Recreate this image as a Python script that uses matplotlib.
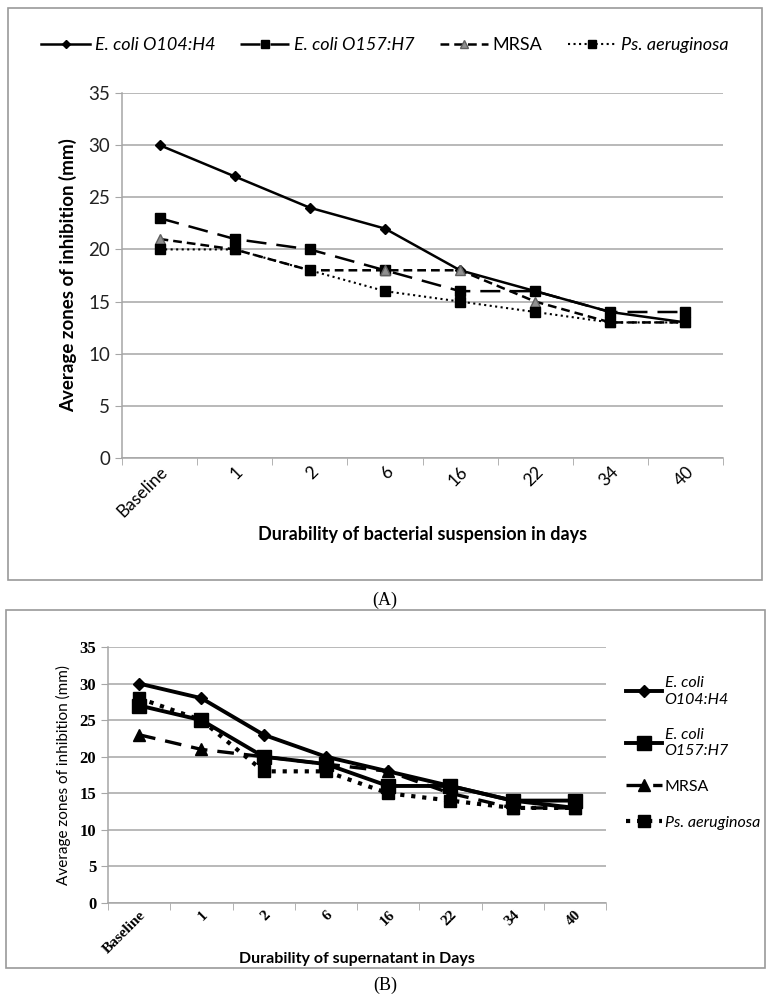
import numpy as np
from matplotlib import pyplot as plt
from matplotlib.patches import Rectangle


#  -------------------------------------------  data  ------------------------------------------  #

days = ["Baseline", "1", "2", "6", "16", "22", "34", "40"]

# (A) bacterial suspension
susp_o104 = [30, 27, 24, 22, 18, 16, 14, 13]
susp_o157 = [23, 21, 20, 18, 16, 16, 14, 14]
susp_mrsa = [21, 20, 18, 18, 18, 15, 13, 13]
susp_psae = [20, 20, 18, 16, 15, 14, 13, 13]

# (B) supernatant
sup_o104 = [30, 28, 23, 20, 18, 16, 14, 13]
sup_o157 = [27, 25, 20, 19, 16, 16, 14, 14]
sup_mrsa = [23, 21, 20, 19, 18, 15, 13, 13]
sup_psae = [28, 25, 18, 18, 15, 14, 13, 13]


#  -------------------------------------------  plot  ------------------------------------------  #

sans = ["Lato", "DejaVu Sans"]
serif = ["Liberation Serif", "DejaVu Serif"]
plt.rcParams.update({"font.family": sans})

fig = plt.figure(figsize=(7.7, 9.99), dpi=100)
W, H = 770, 999

def fbox(x0, y0, x1, y1):
    return [x0/W, 1-y1/H, (x1-x0)/W, (y1-y0)/H]

# panel frames
for (x0, y0, x1, y1) in [(8, 8, 762, 580), (6, 610, 765, 968)]:
    fig.patches.append(Rectangle((x0/W, 1-y1/H), (x1-x0)/W, (y1-y0)/H,
                                 transform=fig.transFigure, fill=False,
                                 ec="#9a9a9a", lw=1.2))

x = np.arange(len(days))
grid_c = "#a6a6a6"

def style_axes(ax):
    ax.set_xlim(-0.5, len(days)-0.5)
    ax.set_ylim(0, 35)
    ax.set_yticks(range(0, 36, 5))
    ax.yaxis.grid(True, color=grid_c, lw=1.1)
    ax.set_axisbelow(True)
    for s in ("top", "right"):
        ax.spines[s].set_visible(False)
    for s in ("left", "bottom"):
        ax.spines[s].set_color(grid_c)
        ax.spines[s].set_linewidth(1.1)
    ax.set_xticks(x)
    ax.set_xticks(np.arange(-0.5, len(days)), minor=True)
    ax.tick_params(axis="x", which="major", length=0, pad=4)
    ax.tick_params(axis="x", which="minor", length=5, color=grid_c)
    ax.tick_params(axis="y", length=5, color=grid_c)


#  ------------------------------------------  panel A  ----------------------------------------  #

ax = fig.add_axes(fbox(122, 93, 723, 458))
style_axes(ax)

ax.plot(x, susp_o104, '-', c='black', lw=1.8, marker='D', ms=5, label="E. coli O104:H4")
ax.plot(x, susp_o157, '-', c='black', lw=1.8, dashes=(8, 4), marker='s', ms=7, label="E. coli O157:H7")
ax.plot(x, susp_mrsa, '-', c='black', lw=1.8, dashes=(3.5, 2), marker='^', ms=7,
        mfc='#909090', mec='#606060', label="MRSA")
ax.plot(x, susp_psae, ':', c='black', lw=1.5, marker='s', ms=7, label="Ps. aeruginosa")

ax.set_xticklabels(days, rotation=45, ha='right', rotation_mode='anchor', fontsize=12.5)
ax.tick_params(axis="y", labelsize=13.5, colors=grid_c, labelcolor='#222222')
ax.set_ylabel("Average zones of inhibition (mm)", fontsize=13.5, fontweight='bold', labelpad=8)
ax.set_xlabel("Durability of bacterial suspension in days", fontsize=13, fontweight='bold', labelpad=4)

legA = fig.legend(*ax.get_legend_handles_labels(), loc='center', ncol=4,
                  bbox_to_anchor=(0.5, 1-45/H), frameon=False, fontsize=13,
                  handlelength=2.7, handletextpad=0.25, columnspacing=1.4,
                  markerscale=0.8)
for i, t in enumerate(legA.get_texts()):
    if i != 2:
        t.set_style('italic')

fig.text(0.5, 1-600/H, "(A)", ha='center', va='center', fontsize=13, family=serif)


#  ------------------------------------------  panel B  ----------------------------------------  #

bx = fig.add_axes(fbox(108, 647, 606, 903))
style_axes(bx)

bx.plot(x, sup_o104, '-', c='black', lw=2.8, marker='D', ms=6, label="E. coli\nO104:H4")
bx.plot(x, sup_o157, '-', c='black', lw=2.8, marker='s', ms=10, label="E. coli\nO157:H7")
bx.plot(x, sup_mrsa, '-', c='black', lw=2.4, dashes=(5, 3), marker='^', ms=8, label="MRSA")
bx.plot(x, sup_psae, ':', c='black', lw=3, marker='s', ms=9, label="Ps. aeruginosa")

bx.set_xticklabels(days, rotation=45, ha='right', rotation_mode='anchor',
                   fontsize=11, fontweight='bold', family=serif)
for t in bx.get_yticklabels():
    t.set_fontweight('bold')
    t.set_family(serif)
    t.set_fontsize(12)
bx.tick_params(axis="y", colors=grid_c, labelcolor='black')
bx.set_ylabel("Average zones of inhibition (mm)", fontsize=11, labelpad=6)
bx.set_xlabel("Durability of supernatant in Days", fontsize=11.5, fontweight='bold')
bx.xaxis.set_label_coords(0.5, -0.19)

legB = fig.legend(*bx.get_legend_handles_labels(), loc='upper left',
                  bbox_to_anchor=(612/W, 1-662/H), frameon=False, fontsize=11.5,
                  handlelength=2.2, handletextpad=0.2, labelspacing=1.35)
for i, t in enumerate(legB.get_texts()):
    if i != 2:
        t.set_style('italic')

fig.text(0.5, 1-985/H, "(B)", ha='center', va='center', fontsize=13, family=serif)

plt.savefig("out.png", dpi=100)
